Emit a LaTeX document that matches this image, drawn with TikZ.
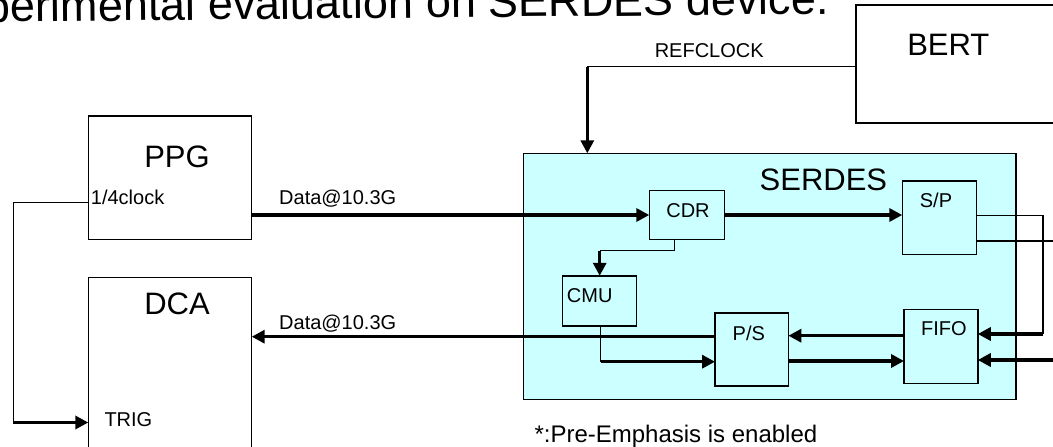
\documentclass[tikz,border=0pt]{standalone}
\usepackage{fontspec}
\setmainfont{Liberation Sans}
\usetikzlibrary{arrows.meta}
\definecolor{serdescyan}{HTML}{CCFFFF}
\begin{document}
\begin{tikzpicture}[x=1pt,y=-1pt,
  box/.style={draw,line width=1.5pt,inner sep=0pt,outer sep=0pt},
  thinline/.style={line width=1.5pt},
  bigarrow/.style={line width=3.3pt,-{Triangle[length=13pt,width=13pt]}},
  bigfont/.style={inner sep=0pt,font=\fontsize{31}{37}\selectfont},
  smallfont/.style={inner sep=0pt,font=\fontsize{20}{24}\selectfont}]
  \useasboundingbox (0,0) rectangle (1053,447);
  % title, cut by the page edge
  \node[inner sep=0pt,anchor=base east,rotate=0.55,font=\fontsize{45}{54}\selectfont] (title) at (829,14) {Experimental evaluation on SERDES device.};
  % instruments
  \node[box,minimum width=163.4,minimum height=123.3] (ppg) at (170,177.7) {};
  \node[box,minimum width=163.4,minimum height=192.7] (dca) at (170,373.7) {};
  \node[box,minimum width=244,minimum height=117.7] (bert) at (978,63.9) {};
  \node[bigfont] (ppglabel) at (177,157) {PPG};
  \node[bigfont] (dcalabel) at (177,304) {DCA};
  \node[bigfont] (bertlabel) at (948.3,44.7) {BERT};
  % device under test
  \node[box,fill=serdescyan,minimum width=492.6,minimum height=246] (serdes) at (769.7,276.3) {};
  \node[bigfont] (serdeslabel) at (823.4,180) {SERDES};
  \node[box,minimum width=75.2,minimum height=48.6] (cdr) at (686.9,215) {};
  \node[box,minimum width=74.2,minimum height=73.3] (sp) at (939.4,217.7) {};
  \node[box,minimum width=74,minimum height=50.3] (cmu) at (599.7,300.9) {};
  \node[box,minimum width=73.3,minimum height=73.3] (ps) at (751.7,349.4) {};
  \node[box,minimum width=73.7,minimum height=74] (fifo) at (940.9,346.3) {};
  \node[smallfont] (cdrlabel) at (688,211) {CDR};
  \node[smallfont] (splabel) at (936,200) {S/P};
  \node[smallfont] (cmulabel) at (589.7,295.5) {CMU};
  \node[smallfont] (pslabel) at (748.8,333) {P/S};
  \node[smallfont] (fifolabel) at (943.8,329) {FIFO};
  % corners and free ends
  \coordinate (refc) at (587.3,66.7);
  \coordinate (cdrbend) at (674.3,250.7);
  \coordinate (cmubend) at (600.7,361.7);
  \coordinate (loopbend) at (1043,215.5);
  \coordinate (clkbend) at (13.3,202.3);
  \coordinate (outsp) at (1060,241);
  \coordinate (infifo) at (1060,360);
  % data paths
  \draw[bigarrow] (ppg.east |- cdr.west) -- (cdr.west);
  \draw[bigarrow] (cdr.east) -- (cdr.east -| sp.west);
  \draw[bigarrow] (ps.west |- 0,336.7) -- (dca.east |- 0,336.7);
  \draw[bigarrow] (fifo.west |- 0,335.7) -- (ps.east |- 0,335.7);
  \draw[bigarrow] (ps.east |- 0,361) -- (fifo.west |- 0,361);
  \draw[bigarrow] (infifo) -- (fifo.east |- infifo);
  \node[smallfont,anchor=base west] (datain) at (279,204) {Data@10.3G};
  \node[smallfont,anchor=base west] (dataout) at (279,329) {Data@10.3G};
  % reference clock
  \draw[thinline] (bert.west |- refc) -- (refc);
  \draw[bigarrow] (refc) -- (refc |- serdes.north);
  \node[smallfont] (refclabel) at (709.2,50.3) {REFCLOCK};
  % clock to CMU and P/S
  \draw[thinline] (cdr.south -| cdrbend) -- (cdrbend) -- (cdrbend -| cmu.north);
  \draw[bigarrow] (cdrbend -| cmu.north) -- (cmu.north);
  \draw[thinline] (cmu.south -| cmubend) -- (cmubend);
  \draw[bigarrow] (cmubend) -- (cmubend -| ps.west);
  % loop back S/P to FIFO
  \draw[thinline] (sp.east |- loopbend) -- (loopbend) -- (loopbend |- 0,334);
  \draw[bigarrow] (loopbend |- 0,334) -- (fifo.east |- 0,334);
  \draw[thinline] (sp.east |- outsp) -- (outsp);
  % trigger
  \draw[thinline] (ppg.west |- clkbend) -- (clkbend) -- (clkbend |- 0,422.5);
  \draw[bigarrow] (clkbend |- 0,422.5) -- (dca.west |- 0,422.5);
  \node[smallfont,anchor=base west] (clklabel) at (90.7,204) {1/4clock};
  \node[smallfont] (triglabel) at (128.4,419.7) {TRIG};
  \node[inner sep=0pt,anchor=base west,font=\fontsize{24}{29}\selectfont] (note) at (534.3,442.7) {*:Pre-Emphasis is enabled};
\end{tikzpicture}
\end{document}
